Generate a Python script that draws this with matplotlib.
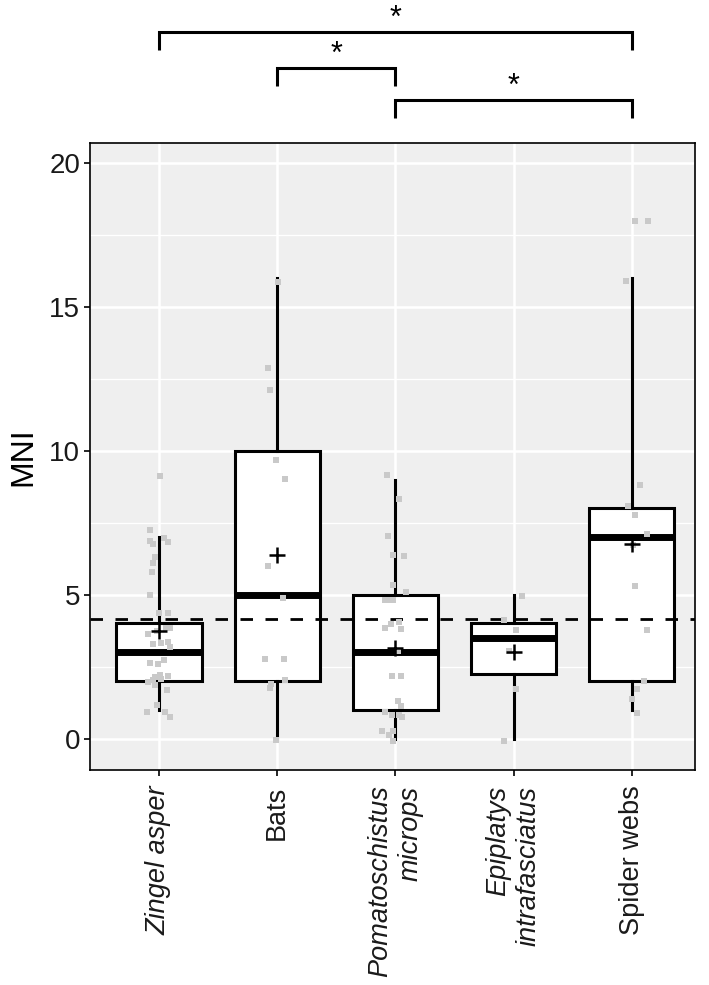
import matplotlib.pyplot as plt
import numpy as np

plt.rcParams["font.family"] = ["Liberation Sans", "DejaVu Sans"]

# categories and labels
categories = ["Zingel asper", "Bats", "Pomatoschistus\nmicrops",
              "Epiplatys\nintrafasciatus", "Spider webs"]
label_styles = ["italic", "normal", "italic", "italic", "normal"]

# box statistics
q1 = [2, 2, 1, 2.25, 2]
medians = [3, 5, 3, 3.5, 7]
q3 = [4, 10, 5, 4, 8]
whisker_low = [1, 0, 0, 0, 1]
whisker_high = [7, 16, 9, 5, 16]
means = [3.75, 6.37, 3.14, 3.0, 6.75]
overall_mean = 4.14

# jittered raw points (values and horizontal jitter in category units)
zingel_vals = [9.11, 7.26, 6.86, 6.77, 6.98, 6.84, 6.31, 6.10, 5.79, 5.00,
               4.36, 4.38, 3.83, 3.83, 3.64, 3.75, 3.30, 3.32, 3.36, 3.19,
               2.64, 2.58, 2.72, 2.15, 2.20, 2.02, 1.97, 2.17, 1.69, 1.18,
               0.91, 0.91, 0.74, 1.85, 2.08]
zingel_jit = [0.01, -0.08, -0.08, -0.05, 0.04, 0.08, -0.03, -0.05, -0.06, -0.08,
              0.00, 0.08, 0.06, 0.09, -0.09, -0.02, -0.05, 0.02, 0.08, 0.09,
              -0.08, -0.01, 0.04, -0.03, 0.01, -0.05, -0.09, 0.08, 0.07, -0.02,
              -0.10, 0.05, 0.09, -0.03, 0.02]
bats_vals = [15.87, 12.89, 12.10, 9.67, 9.02, 6.00, 4.88, 2.77, 2.77, 2.05,
             1.90, 1.76, -0.05]
bats_jit = [0.01, -0.08, -0.06, -0.01, 0.07, -0.08, 0.05, -0.10, 0.06, 0.07,
            -0.05, -0.06, -0.01]
pomato_vals = [9.17, 8.31, 7.04, 6.37, 6.34, 5.32, 5.09, 4.80, 4.80, 4.83,
               4.06, 3.97, 3.85, 3.82, 3.06, 2.18, 2.18, 1.30, 1.12, 0.83,
               0.74, 0.81, 0.93, 0.28, 0.28, 0.12, -0.10]
pomato_jit = [-0.07, 0.03, -0.06, -0.02, 0.07, -0.02, 0.09, -0.09, -0.04, -0.02,
              0.03, -0.04, -0.09, 0.05, 0.02, -0.03, 0.05, 0.02, 0.05, 0.03,
              0.06, -0.03, -0.09, -0.11, -0.02, -0.05, -0.02]
epi_vals = [4.97, 4.13, 3.78, 3.06, 1.72, -0.08]
epi_jit = [0.07, -0.08, 0.02, -0.04, 0.02, -0.08]
spider_vals = [17.97, 17.99, 15.90, 8.81, 8.08, 7.78, 7.12, 6.73, 5.30, 3.77,
               2.00, 1.73, 1.36, 0.89]
spider_jit = [0.14, 0.03, -0.05, 0.07, -0.03, 0.03, 0.13, 0.01, 0.03, 0.13,
              0.10, 0.04, 0.00, 0.04]

point_vals = [zingel_vals, bats_vals, pomato_vals, epi_vals, spider_vals]
point_jit = [zingel_jit, bats_jit, pomato_jit, epi_jit, spider_jit]

# significance brackets: (left group, right group, level)
brackets = [(1, 5, 24.56), (2, 3, 23.30), (3, 5, 22.19)]
bracket_labels = ["*", "*", "*"]

fig = plt.figure(figsize=(7.09, 9.85), dpi=100)
ax = fig.add_axes([0.127, 0.218, 0.853, 0.637])
ax.set_facecolor("#EFEFEF")

pos = np.arange(1, len(categories) + 1)

# grid
for y in [2.5, 7.5, 12.5, 17.5]:
    ax.axhline(y, color="white", lw=0.9, zorder=0)
for y in [0, 5, 10, 15, 20]:
    ax.axhline(y, color="white", lw=1.8, zorder=0)
for x in pos:
    ax.axvline(x, color="white", lw=1.8, zorder=0)

stats = []
for i in range(len(categories)):
    stats.append(dict(q1=q1[i], med=medians[i], q3=q3[i],
                      whislo=whisker_low[i], whishi=whisker_high[i]))

ax.bxp(stats, positions=pos, widths=0.72, showfliers=False, showcaps=False,
       patch_artist=True,
       boxprops=dict(facecolor="white", edgecolor="black", linewidth=2.2),
       whiskerprops=dict(color="black", linewidth=2.2),
       medianprops=dict(color="black", linewidth=5, solid_capstyle="butt"),
       zorder=2)

ax.axhline(overall_mean, color="black", lw=2.0, ls=(0, (4.5, 4.5)), zorder=3)

for i in range(len(categories)):
    xs = pos[i] + np.array(point_jit[i])
    ax.scatter(xs, point_vals[i], marker="s", s=14, color="#C9C9C9",
               linewidths=0, zorder=4)

ax.scatter(pos, means, marker="+", s=120, color="black", linewidths=1.8,
           zorder=5)

# brackets above the panel
for (a, b, lev), lab in zip(brackets, bracket_labels):
    ax.plot([a, a, b, b], [lev - 0.62, lev, lev, lev - 0.62], color="black",
            lw=2.2, clip_on=False, solid_capstyle="butt",
            solid_joinstyle="miter")
    ax.text((a + b) / 2, lev - 0.08, lab, ha="center", va="bottom",
            fontsize=22, clip_on=False)

ax.set_xlim(0.417, 5.533)
ax.set_ylim(-1.1, 20.7)
ax.set_yticks([0, 5, 10, 15, 20])
ax.set_xticks(pos)
ax.set_xticklabels(categories, rotation=90, ha="center", va="top",
                   multialignment="right", fontsize=19.5, color="#1a1a1a")
for t, st in zip(ax.get_xticklabels(), label_styles):
    t.set_fontstyle(st)
ax.tick_params(axis="y", labelsize=20, length=4, width=1.2, pad=3,
               labelcolor="#1a1a1a")
ax.tick_params(axis="x", length=4, width=1.2, pad=7)
ax.set_ylabel("MNI", fontsize=23, labelpad=8)

for s in ax.spines.values():
    s.set_linewidth(1.2)
    s.set_color("black")

fig.savefig("out.png", dpi=100)
